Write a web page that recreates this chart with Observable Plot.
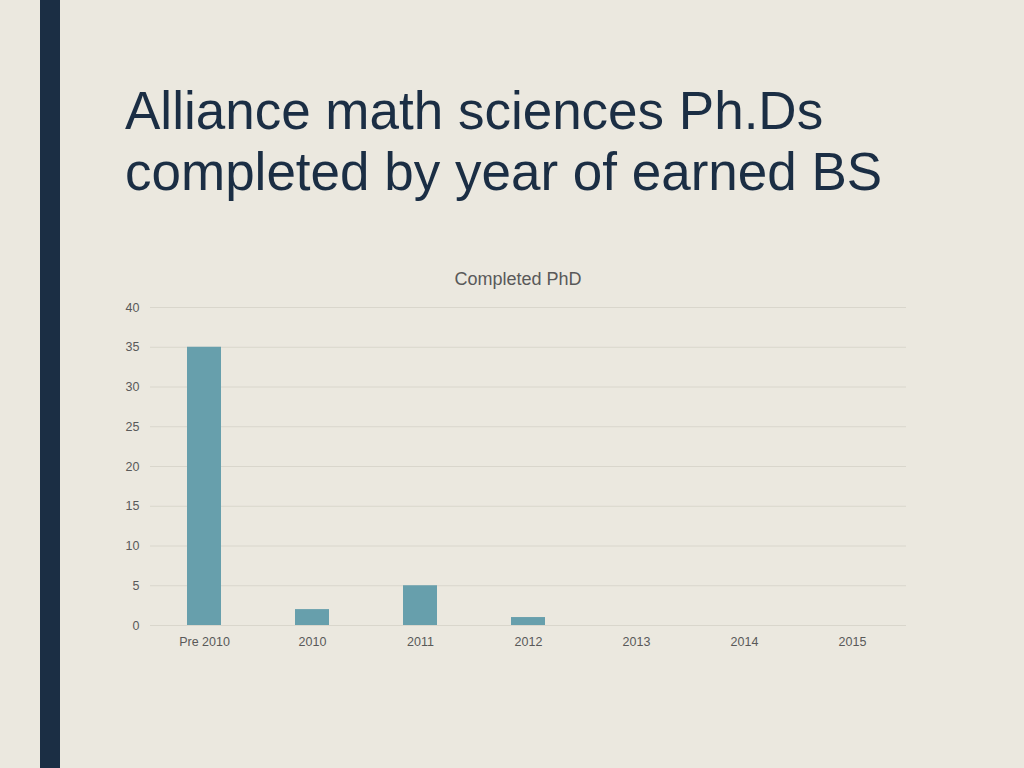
<!DOCTYPE html>
<html><head><meta charset="utf-8">
<script src="https://cdn.jsdelivr.net/npm/d3@7"></script>
<script src="https://cdn.jsdelivr.net/npm/@observablehq/plot@0.6"></script>
<style>
html,body{margin:0;padding:0;width:1024px;height:768px;overflow:hidden;background:#EBE8DF;}
#bar{position:absolute;left:40px;top:0;width:20px;height:768px;background:#1B2E44;}
#title{position:absolute;left:125px;top:80px;font-family:"Liberation Sans",Arial,sans-serif;font-size:53px;line-height:61px;color:#1B2E44;}
#ctitle{position:absolute;left:0;width:1036px;top:269px;text-align:center;font-family:"Liberation Sans",Arial,sans-serif;font-size:18px;color:#595959;}
#chart{position:absolute;left:0;top:297px;}
</style></head>
<body>
<div id="bar"></div>
<div id="title">Alliance math sciences Ph.Ds<br>completed by year of earned BS</div>
<div id="ctitle">Completed PhD</div>
<div id="chart"></div>
<script>
const categories = ["Pre 2010","2010","2011","2012","2013","2014","2015"];
const completed = [35, 2, 5, 1, 0, 0, 0];
const yTicks = [0,5,10,15,20,25,30,35,40];

const data = categories.map((c,i)=>({cat:c, value:completed[i]}));

const plot = Plot.plot({
  width:1024, height:358,
  marginLeft:150, marginRight:118, marginTop:10, marginBottom:30,
  style:{background:"transparent", fontFamily:"'Liberation Sans',Arial,sans-serif", fontSize:"12.5px", color:"#595959"},
  x:{type:"band", domain:categories, paddingInner:0.685, paddingOuter:0.3425, label:null, tickSize:0, tickPadding:12},
  y:{domain:[0,40], ticks:yTicks, label:null, tickSize:0, tickPadding:11},
  marks:[
    Plot.ruleY(yTicks, {stroke:"#D9D6CC", strokeWidth:1}),
    Plot.barY(data, {x:"cat", y:"value", fill:"#679FAC"}),
    Plot.axisY({ticks:yTicks, tickSize:0, tickPadding:11, label:null, fill:"#595959"}),
    Plot.axisX({tickSize:0, tickPadding:12, label:null, fill:"#595959"})
  ]
});
document.getElementById("chart").appendChild(plot);
</script>
</body></html>
